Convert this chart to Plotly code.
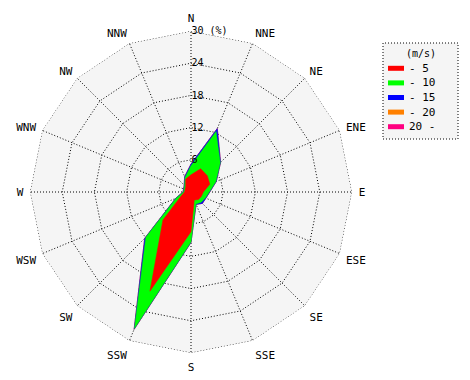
import plotly.graph_objects as go
import numpy as np

directions = ['N', 'NNE', 'NE', 'ENE', 'E', 'ESE', 'SE', 'SSE',
              'S', 'SSW', 'SW', 'WSW', 'W', 'WNW', 'NW', 'NNW']

# frequency (%) per speed class
f_5   = [3.2, 4.7, 4.3, 3.8, 2.3, 2.1, 2.0, 1.6, 7.4, 20.0, 7.4, 2.0, 1.2, 1.2, 1.4, 2.6]
f_10  = [1.7, 7.5, 3.4, 1.2, 1.1, 0.8, 0.7, 0.8, 1.9, 7.5, 4.5, 1.0, 0.2, 0.2, 0.3, 0.3]
f_15  = [0.3, 0.6, 0.1, 0.1, 0.1, 0.1, 0.3, 0.1, 0.1, 0.2, 0.3, 0.1, 0.1, 0.1, 0.1, 0.2]
f_20  = [0.0] * 16
f_20p = [0.0] * 16

class_names = ['- 5', '- 10', '- 15', '- 20', '20 -']
class_colors = ['#ff0000', '#00ff00', '#0000ff', '#ff8000', '#ff0080']
legend_title = '(m/s)'

radial_ticks = [6, 12, 18, 24, 30]
radial_ticktext = ['6', '12', '18', '24', '30 (%)']

series = [f_5, f_10, f_15, f_20, f_20p]
cum = np.cumsum(np.array(series), axis=0)

FONT = 'DejaVu Sans Mono'
W, H = 470, 380

fig = go.Figure()
for i in range(len(series) - 1, -1, -1):
    r = list(cum[i]) + [cum[i][0]]
    th = directions + [directions[0]]
    fig.add_trace(go.Scatterpolar(
        r=r, theta=th, mode='lines', fill='toself',
        fillcolor=class_colors[i],
        line=dict(color=class_colors[i], width=0.5),
        name=class_names[i], showlegend=False, hoverinfo='skip'))

# outer dotted frame at the top of the radial scale
fig.add_trace(go.Scatterpolar(
    r=[radial_ticks[-1]] * (len(directions) + 1),
    theta=directions + [directions[0]], mode='lines',
    line=dict(color='black', width=1, dash='1px,2px'),
    showlegend=False, hoverinfo='skip'))

# legend drawn as swatches + labels
shapes = []
annotations = []
lx0, ly0 = 375, 35
shapes.append(dict(type='rect', xref='paper', yref='paper',
                   x0=lx0 / W, x1=(lx0 + 75) / W,
                   y0=1 - (ly0 + 96) / H, y1=1 - ly0 / H,
                   line=dict(color='black', width=1, dash='1px,2px'),
                   fillcolor='#f5f5f5', layer='below'))
annotations.append(dict(xref='paper', yref='paper', x=(lx0 + 38) / W,
                        y=1 - (ly0 + 10) / H, text=legend_title,
                        showarrow=False, xanchor='center', yanchor='middle',
                        font=dict(family=FONT, size=10, color='black')))
for k, (nm, col) in enumerate(zip(class_names, class_colors)):
    yc = ly0 + 25.3 + k * 14.6
    shapes.append(dict(type='rect', xref='paper', yref='paper',
                       x0=(lx0 + 5) / W, x1=(lx0 + 21) / W,
                       y0=1 - (yc + 2.5) / H, y1=1 - (yc - 2.5) / H,
                       line=dict(width=0), fillcolor=col))
    annotations.append(dict(xref='paper', yref='paper', x=(lx0 + 24) / W,
                            y=1 - yc / H, text=nm, showarrow=False,
                            xanchor='left', yanchor='middle',
                            font=dict(family=FONT, size=11, color='black')))

cx, cy, R = 183, 184, 161
fig.update_layout(
    width=W, height=H,
    margin=dict(l=0, r=0, t=0, b=0),
    paper_bgcolor='white',
    font=dict(family=FONT, size=11, color='black'),
    showlegend=False,
    polar=dict(
        domain=dict(x=[(cx - R) / W, (cx + R) / W],
                    y=[1 - (cy + R) / H, 1 - (cy - R) / H]),
        bgcolor='#f5f5f5',
        gridshape='linear',
        angularaxis=dict(
            type='category', categoryarray=directions,
            rotation=90, direction='clockwise',
            showline=False, layer='above traces',
            showgrid=True, gridcolor='black', griddash='1px,2px', gridwidth=1,
            ticks='outside', ticklen=4, tickcolor='rgba(0,0,0,0)',
            tickfont=dict(family=FONT, size=11, color='black')),
        radialaxis=dict(
            range=[0, 30], angle=90, tickangle=90,
            tickvals=radial_ticks, ticktext=radial_ticktext,
            showline=False, ticks='', layer='above traces',
            showgrid=True, gridcolor='black', griddash='1px,2px', gridwidth=1,
            tickfont=dict(family=FONT, size=10, color='black'),
            side='clockwise'),
    ),
    shapes=shapes,
    annotations=annotations,
)

fig.write_html('out.html')
